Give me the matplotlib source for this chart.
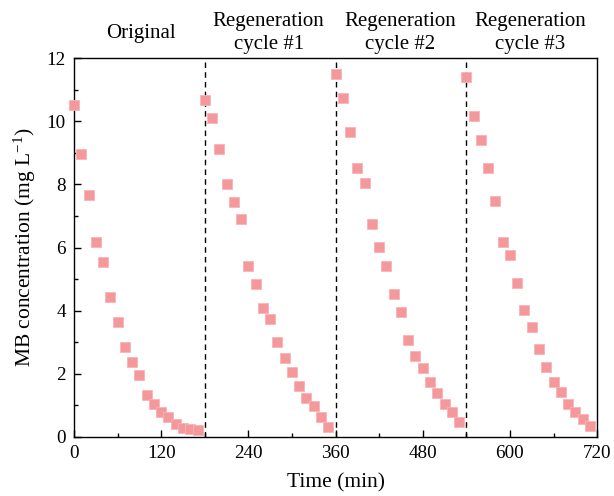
import matplotlib
matplotlib.use("Agg")
import matplotlib.pyplot as plt
from matplotlib.ticker import MultipleLocator
import matplotlib.transforms as mtransforms

plt.rcParams['font.family'] = ['Liberation Serif', 'DejaVu Serif']
plt.rcParams['mathtext.fontset'] = 'custom'
plt.rcParams['mathtext.rm'] = 'Liberation Serif'
plt.rcParams['mathtext.it'] = 'Liberation Serif:italic'

time_min = [0, 10, 20, 30, 40, 50, 60, 70, 80, 90, 100, 110, 120, 130, 140, 150, 160, 170,
            180, 190, 200, 210, 220, 230, 240, 250, 260, 270, 280, 290, 300, 310, 320, 330, 340, 350,
            360, 370, 380, 390, 400, 410, 420, 430, 440, 450, 460, 470, 480, 490, 500, 510, 520, 530,
            540, 550, 560, 570, 580, 590, 600, 610, 620, 630, 640, 650, 660, 670, 680, 690, 700, 710]
mb_original = [10.52, 8.96, 7.65, 6.16, 5.54, 4.44, 3.64, 2.86, 2.39, 1.96, 1.34, 1.05, 0.80, 0.63,
               0.42, 0.30, 0.26, 0.23]
mb_cycle1 = [10.67, 10.10, 9.13, 8.02, 7.44, 6.89, 5.41, 4.83, 4.09, 3.73, 3.00, 2.51, 2.05, 1.60,
             1.25, 0.97, 0.62, 0.33]
mb_cycle2 = [11.49, 10.75, 9.65, 8.51, 8.03, 6.75, 6.02, 5.42, 4.52, 3.96, 3.06, 2.57, 2.18, 1.74,
             1.38, 1.05, 0.78, 0.46]
mb_cycle3 = [11.39, 10.16, 9.39, 8.53, 7.47, 6.18, 5.77, 4.89, 4.02, 3.49, 2.80, 2.23, 1.74, 1.42,
             1.05, 0.79, 0.57, 0.36]
boundaries = [180, 360, 540]
header_labels = ["Original", "Regeneration\ncycle #1", "Regeneration\ncycle #2", "Regeneration\ncycle #3"]
header_x = [92, 268, 449, 628]
x_ticks = [0, 120, 240, 360, 480, 600, 720]

mb_all = mb_original + mb_cycle1 + mb_cycle2 + mb_cycle3

fig = plt.figure(figsize=(6.14, 4.96), dpi=100)
ax = fig.add_axes([0.1205, 0.119, 0.852, 0.764])

ax.plot(time_min, mb_all, linestyle='none', marker='s', markersize=6.8,
        color='#F4989C', markeredgecolor='#F8B4B6', markeredgewidth=0.6,
        clip_on=False, zorder=3)

for b in boundaries:
    ax.axvline(b, color='black', linestyle=(0, (4, 3)), linewidth=1.0)

ax.set_xlim(0, 720)
ax.set_ylim(0, 12)
ax.set_xticks(x_ticks)
ax.xaxis.set_minor_locator(MultipleLocator(60))
ax.yaxis.set_major_locator(MultipleLocator(2))
ax.yaxis.set_minor_locator(MultipleLocator(1))
ax.tick_params(which='both', direction='in', top=False, right=False, labelsize=13.8)
ax.tick_params(which='major', length=5, width=1, pad=6)
ax.tick_params(which='minor', length=3, width=1)
for s in ax.spines.values():
    s.set_linewidth(1.0)

ax.set_xlabel('Time (min)', fontsize=15.5, labelpad=8)
ax.set_ylabel('MB concentration (mg L$^{\\mathregular{-1}}$)', fontsize=15.5, labelpad=6)

trans = mtransforms.blended_transform_factory(ax.transData, ax.transAxes)
for x, lab in zip(header_x, header_labels):
    ax.text(x, 1.066, lab, transform=trans, ha='center', va='center', fontsize=15,
            linespacing=1.22)

fig.savefig('out.png', dpi=100)
